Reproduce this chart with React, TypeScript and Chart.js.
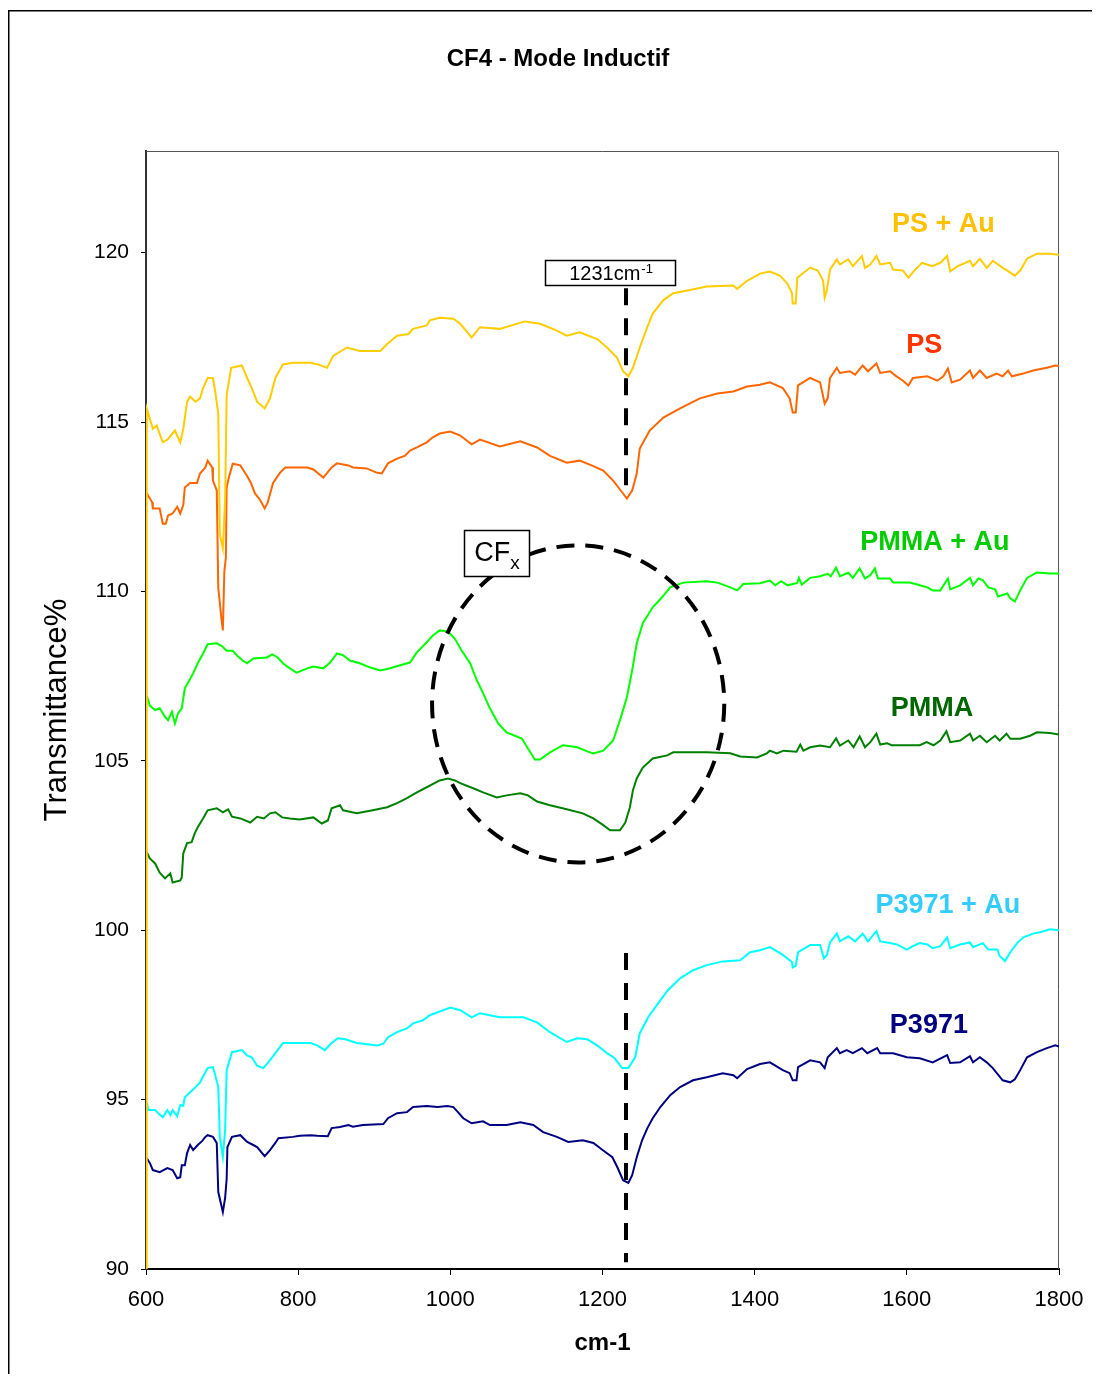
import React, { useEffect, useRef } from 'react';
import { Chart, registerables } from 'chart.js';

Chart.register(...registerables);

const FONT = '"Liberation Sans", Arial, Helvetica, sans-serif';

const chartTitle = 'CF4 - Mode Inductif';
const xAxisTitle = 'cm-1';
const yAxisTitle = 'Transmittance%';
const xTicks = [600, 800, 1000, 1200, 1400, 1600, 1800];
const yTicks = [90, 95, 100, 105, 110, 115, 120];

const seriesNames = ['PS + Au', 'PS', 'PMMA + Au', 'PMMA', 'P3971 + Au', 'P3971'];
const lineColors = ['#FFCC00', '#FF6600', '#00FF00', '#008000', '#00FFFF', '#000080'];
const labelColors = ['#FFC000', '#FF3300', '#00CC00', '#006600', '#33CCFF', '#000080'];
// label anchors in data units (wavenumber, transmittance)
const labelAnchors: [number, number][] = [
  [1648, 120.83], [1623, 117.26], [1637, 111.45], [1633, 106.55], [1654, 100.74], [1629, 97.2],
];

// annotation values in data units
const markerX = 1231;
const markerSegments: [number, number][] = [[118.95, 112.75], [99.33, 90.2]];
const markerLabelBox: [number, number, number, number] = [1124.4, 119.79, 1295.3, 119.03];
const cfxBox: [number, number, number, number] = [1018, 111.8, 1103.5, 110.47];
const circleCenter: [number, number] = [1168, 106.68];
const circleRadii: [number, number] = [192, 4.68];

const psAu: [number, number][] = [
  [600, 90], [601, 115.4], [609, 114.8], [614, 114.9], [622, 114.4], [629, 114.5], [638, 114.75], [645, 114.4],
  [649, 114.8], [654, 115.6], [658, 115.75], [665, 115.6], [671, 115.7], [675, 116.0], [681, 116.3], [688, 116.3],
  [691, 115.9], [695, 115.25], [697, 111.7], [701, 111.27], [704, 112.7], [706, 115.8], [712, 116.6], [726, 116.67],
  [733, 116.3], [739, 116.0], [746, 115.6], [756, 115.4], [763, 115.7], [770, 116.3], [780, 116.7], [793, 116.75],
  [816, 116.75], [826, 116.7], [838, 116.6], [846, 116.95], [864, 117.2], [881, 117.1], [908, 117.1], [917, 117.3],
  [930, 117.55], [945, 117.6], [951, 117.75], [969, 117.85], [973, 118.0], [986, 118.08], [1004, 118.05], [1013, 117.9],
  [1028, 117.5], [1039, 117.8], [1065, 117.75], [1098, 117.97], [1118, 117.9], [1140, 117.7], [1153, 117.55], [1170, 117.65],
  [1193, 117.45], [1206, 117.2], [1219, 116.9], [1227, 116.5], [1234, 116.35], [1240, 116.6], [1249, 117.2], [1258, 117.75],
  [1266, 118.2], [1280, 118.6], [1293, 118.8], [1315, 118.9], [1337, 119.0], [1372, 119.03], [1377, 118.93], [1390, 119.17],
  [1407, 119.38], [1420, 119.44], [1433, 119.32], [1443, 119.09], [1449, 118.8], [1450, 118.5], [1454, 118.5], [1456, 119.26],
  [1464, 119.4], [1473, 119.56], [1483, 119.47], [1490, 119.17], [1492, 118.67], [1495, 118.9], [1499, 119.5], [1508, 119.8],
  [1512, 119.65], [1523, 119.8], [1529, 119.6], [1541, 119.9], [1545, 119.55], [1552, 119.65], [1560, 119.9], [1565, 119.65],
  [1578, 119.7], [1582, 119.5], [1595, 119.47], [1602, 119.26], [1611, 119.5], [1620, 119.7], [1633, 119.6], [1644, 119.7],
  [1653, 119.9], [1657, 119.45], [1667, 119.6], [1683, 119.76], [1687, 119.6], [1696, 119.82], [1705, 119.55], [1713, 119.76],
  [1726, 119.55], [1730, 119.5], [1742, 119.32], [1749, 119.47], [1758, 119.82], [1771, 119.97], [1788, 119.97], [1800, 119.94],
];

const ps: [number, number][] = [
  [601, 112.9], [608, 112.63], [609, 112.45], [618, 112.45], [622, 112.0], [626, 112.0], [629, 112.24], [635, 112.3],
  [641, 112.5], [645, 112.3], [649, 112.55], [651, 113.07], [658, 113.2], [667, 113.2], [671, 113.48], [678, 113.66],
  [681, 113.86], [687, 113.66], [688, 113.27], [693, 112.98], [695, 110.1], [699, 109.23], [701, 108.85], [703, 110.6],
  [705, 111.0], [706, 113.07], [709, 113.37], [714, 113.77], [724, 113.72], [733, 113.4], [738, 113.2], [743, 112.9],
  [750, 112.7], [756, 112.45], [760, 112.63], [767, 113.2], [776, 113.5], [783, 113.66], [798, 113.66], [812, 113.66],
  [820, 113.6], [833, 113.36], [844, 113.66], [851, 113.78], [866, 113.72], [872, 113.66], [890, 113.63], [904, 113.5],
  [910, 113.48], [918, 113.78], [930, 113.92], [940, 114.0], [947, 114.16], [956, 114.25], [969, 114.4], [977, 114.55],
  [986, 114.66], [1000, 114.72], [1013, 114.6], [1028, 114.34], [1039, 114.48], [1065, 114.28], [1092, 114.43], [1114, 114.25],
  [1131, 114.0], [1153, 113.8], [1170, 113.86], [1188, 113.7], [1201, 113.57], [1214, 113.27], [1226, 112.92], [1232, 112.74],
  [1239, 112.98], [1245, 113.48], [1249, 114.22], [1262, 114.75], [1280, 115.13], [1302, 115.4], [1328, 115.7], [1351, 115.84],
  [1372, 115.9], [1390, 116.05], [1407, 116.1], [1420, 116.17], [1437, 116.0], [1446, 115.7], [1450, 115.28], [1454, 115.28],
  [1457, 116.08], [1473, 116.3], [1486, 116.17], [1492, 115.54], [1496, 115.7], [1499, 116.3], [1508, 116.6], [1512, 116.45],
  [1525, 116.5], [1532, 116.4], [1542, 116.67], [1549, 116.5], [1560, 116.73], [1565, 116.45], [1578, 116.5], [1585, 116.37],
  [1595, 116.22], [1602, 116.08], [1608, 116.3], [1627, 116.35], [1640, 116.22], [1648, 116.35], [1654, 116.58], [1659, 116.17],
  [1670, 116.25], [1683, 116.52], [1687, 116.3], [1696, 116.52], [1705, 116.3], [1718, 116.43], [1726, 116.35], [1733, 116.52],
  [1738, 116.35], [1753, 116.43], [1766, 116.52], [1784, 116.6], [1795, 116.67], [1800, 116.65],
];

const pmmaAu: [number, number][] = [
  [601, 106.93], [605, 106.63], [612, 106.5], [618, 106.55], [625, 106.3], [629, 106.2], [634, 106.45], [638, 106.1],
  [642, 106.4], [647, 106.55], [651, 107.14], [655, 107.3], [662, 107.58], [668, 107.88], [675, 108.17], [681, 108.44],
  [693, 108.47], [700, 108.38], [706, 108.25], [714, 108.25], [720, 108.1], [727, 107.96], [733, 107.88], [741, 108.02],
  [759, 108.05], [766, 108.14], [773, 108.05], [780, 107.88], [789, 107.73], [798, 107.6], [812, 107.73], [820, 107.78],
  [833, 107.73], [842, 107.9], [851, 108.17], [859, 108.12], [868, 107.96], [881, 107.88], [894, 107.76], [908, 107.67],
  [921, 107.73], [934, 107.82], [947, 107.9], [956, 108.2], [969, 108.5], [977, 108.7], [986, 108.85], [997, 108.82],
  [1006, 108.6], [1015, 108.25], [1026, 107.88], [1035, 107.37], [1043, 107.0], [1052, 106.55], [1063, 106.1], [1074, 105.84],
  [1094, 105.66], [1101, 105.4], [1111, 105.04], [1118, 105.04], [1131, 105.25], [1148, 105.46], [1167, 105.4], [1180, 105.28],
  [1188, 105.22], [1201, 105.3], [1214, 105.6], [1223, 106.2], [1232, 106.87], [1239, 107.67], [1245, 108.47], [1253, 109.06],
  [1266, 109.53], [1278, 109.82], [1289, 110.12], [1306, 110.26], [1337, 110.3], [1351, 110.26], [1368, 110.12], [1377, 110.03],
  [1385, 110.22], [1407, 110.24], [1420, 110.32], [1427, 110.18], [1435, 110.3], [1443, 110.18], [1456, 110.25], [1458, 110.4],
  [1462, 110.2], [1473, 110.4], [1486, 110.45], [1496, 110.52], [1500, 110.45], [1507, 110.7], [1512, 110.45], [1523, 110.55],
  [1529, 110.4], [1538, 110.68], [1545, 110.38], [1552, 110.48], [1558, 110.68], [1562, 110.38], [1578, 110.38], [1582, 110.26],
  [1604, 110.26], [1617, 110.18], [1627, 110.12], [1634, 110.03], [1644, 110.03], [1654, 110.38], [1657, 110.06], [1670, 110.18],
  [1683, 110.4], [1687, 110.18], [1694, 110.38], [1700, 110.33], [1707, 110.12], [1716, 110.06], [1720, 109.85], [1732, 109.94],
  [1736, 109.8], [1742, 109.7], [1749, 110.03], [1758, 110.4], [1771, 110.56], [1788, 110.53], [1800, 110.53],
];

const pmma: [number, number][] = [
  [601, 102.3], [605, 102.12], [612, 101.97], [618, 101.7], [625, 101.53], [632, 101.68], [635, 101.41], [645, 101.47],
  [647, 101.56], [649, 102.27], [654, 102.57], [660, 102.6], [664, 102.86], [668, 103.04], [675, 103.3], [681, 103.54],
  [693, 103.6], [701, 103.48], [708, 103.57], [713, 103.35], [724, 103.3], [737, 103.18], [746, 103.35], [755, 103.3],
  [763, 103.45], [770, 103.48], [779, 103.33], [789, 103.3], [802, 103.27], [820, 103.33], [831, 103.15], [839, 103.24],
  [844, 103.6], [855, 103.69], [859, 103.54], [877, 103.45], [898, 103.54], [917, 103.63], [930, 103.75], [943, 103.9],
  [956, 104.07], [969, 104.22], [986, 104.42], [997, 104.48], [1006, 104.42], [1013, 104.34], [1030, 104.19], [1043, 104.07],
  [1061, 103.92], [1074, 103.98], [1092, 104.04], [1102, 103.98], [1114, 103.8], [1131, 103.69], [1153, 103.57], [1174, 103.45],
  [1188, 103.3], [1201, 103.1], [1210, 102.95], [1223, 102.95], [1230, 103.18], [1236, 103.63], [1240, 104.13], [1245, 104.48],
  [1253, 104.8], [1266, 105.07], [1285, 105.16], [1293, 105.25], [1337, 105.25], [1368, 105.22], [1381, 105.13], [1403, 105.1],
  [1416, 105.22], [1420, 105.3], [1429, 105.22], [1438, 105.3], [1455, 105.27], [1460, 105.48], [1464, 105.3], [1473, 105.4],
  [1486, 105.45], [1499, 105.4], [1507, 105.66], [1512, 105.45], [1523, 105.6], [1530, 105.4], [1538, 105.72], [1545, 105.4],
  [1552, 105.55], [1560, 105.8], [1565, 105.48], [1574, 105.52], [1580, 105.46], [1617, 105.46], [1626, 105.55], [1635, 105.46],
  [1644, 105.6], [1652, 105.87], [1657, 105.55], [1670, 105.6], [1683, 105.8], [1687, 105.6], [1696, 105.74], [1705, 105.55],
  [1716, 105.74], [1722, 105.6], [1731, 105.8], [1736, 105.65], [1749, 105.65], [1762, 105.74], [1771, 105.84], [1788, 105.82],
  [1800, 105.78],
];

const p3971Au: [number, number][] = [
  [601, 94.93], [603, 94.69], [612, 94.69], [616, 94.6], [622, 94.48], [628, 94.69], [632, 94.54], [635, 94.69],
  [641, 94.51], [645, 94.84], [649, 94.81], [651, 95.07], [658, 95.22], [664, 95.34], [671, 95.51], [678, 95.81],
  [681, 95.93], [688, 95.96], [691, 95.72], [695, 95.37], [697, 93.9], [701, 93.3], [704, 94.1], [706, 95.87],
  [713, 96.4], [726, 96.46], [733, 96.3], [739, 96.25], [746, 96.0], [754, 95.93], [760, 96.08], [770, 96.37],
  [780, 96.67], [793, 96.67], [816, 96.67], [825, 96.6], [835, 96.46], [844, 96.67], [852, 96.81], [862, 96.78],
  [877, 96.67], [904, 96.6], [912, 96.65], [918, 96.84], [930, 96.99], [943, 97.1], [951, 97.25], [964, 97.34],
  [973, 97.49], [986, 97.6], [1000, 97.72], [1013, 97.64], [1028, 97.43], [1039, 97.55], [1065, 97.43], [1096, 97.43],
  [1114, 97.28], [1131, 96.99], [1153, 96.7], [1167, 96.81], [1180, 96.78], [1193, 96.6], [1206, 96.37], [1216, 96.22],
  [1226, 95.93], [1234, 95.93], [1243, 96.25], [1249, 96.96], [1260, 97.43], [1273, 97.84], [1286, 98.23], [1302, 98.58],
  [1319, 98.82], [1337, 98.97], [1358, 99.08], [1381, 99.11], [1394, 99.35], [1407, 99.41], [1420, 99.5], [1437, 99.27],
  [1449, 99.06], [1450, 98.9], [1454, 98.95], [1457, 99.35], [1473, 99.56], [1486, 99.56], [1491, 99.17], [1495, 99.27],
  [1499, 99.64], [1508, 99.9], [1512, 99.67], [1523, 99.82], [1532, 99.67], [1542, 99.9], [1549, 99.67], [1560, 99.97],
  [1565, 99.67], [1578, 99.62], [1587, 99.58], [1600, 99.43], [1608, 99.53], [1617, 99.62], [1627, 99.58], [1634, 99.47],
  [1644, 99.53], [1653, 99.79], [1657, 99.47], [1670, 99.58], [1683, 99.64], [1687, 99.5], [1700, 99.62], [1707, 99.43],
  [1719, 99.43], [1722, 99.24], [1729, 99.09], [1736, 99.35], [1745, 99.62], [1753, 99.79], [1766, 99.9], [1775, 99.94],
  [1788, 100.03], [1800, 100.0],
];

const p3971: [number, number][] = [
  [601, 93.27], [605, 93.13], [609, 92.92], [618, 92.86], [628, 92.98], [635, 92.92], [641, 92.68], [645, 92.71],
  [647, 93.06], [651, 93.06], [654, 93.42], [658, 93.66], [662, 93.51], [668, 93.66], [674, 93.78], [678, 93.9],
  [681, 93.95], [688, 93.9], [693, 93.72], [695, 92.27], [701, 91.68], [704, 92.1], [706, 92.65], [707, 93.6],
  [713, 93.9], [724, 93.95], [733, 93.75], [741, 93.66], [746, 93.6], [756, 93.33], [763, 93.51], [770, 93.72],
  [774, 93.86], [793, 93.9], [802, 93.93], [816, 93.95], [825, 93.93], [839, 93.92], [844, 94.16], [855, 94.19],
  [866, 94.25], [872, 94.2], [885, 94.25], [912, 94.28], [918, 94.45], [930, 94.6], [943, 94.63], [951, 94.78],
  [969, 94.81], [983, 94.78], [996, 94.81], [1004, 94.78], [1010, 94.63], [1017, 94.45], [1028, 94.3], [1043, 94.36],
  [1052, 94.25], [1074, 94.25], [1092, 94.33], [1109, 94.25], [1122, 94.04], [1140, 93.9], [1155, 93.75], [1174, 93.8],
  [1188, 93.72], [1201, 93.5], [1213, 93.3], [1220, 92.98], [1227, 92.62], [1234, 92.54], [1239, 92.77], [1245, 93.3],
  [1252, 93.8], [1259, 94.16], [1266, 94.45], [1276, 94.78], [1289, 95.13], [1302, 95.37], [1319, 95.57], [1337, 95.66],
  [1358, 95.78], [1372, 95.72], [1377, 95.63], [1390, 95.9], [1407, 96.05], [1420, 96.1], [1437, 95.87], [1446, 95.78],
  [1450, 95.57], [1455, 95.57], [1457, 95.96], [1473, 96.16], [1486, 96.1], [1492, 95.93], [1496, 96.25], [1508, 96.52],
  [1512, 96.37], [1521, 96.46], [1529, 96.37], [1541, 96.52], [1548, 96.37], [1561, 96.52], [1565, 96.37], [1582, 96.37],
  [1600, 96.25], [1617, 96.22], [1634, 96.1], [1653, 96.31], [1657, 96.08], [1670, 96.1], [1683, 96.28], [1687, 96.1],
  [1696, 96.25], [1705, 96.1], [1713, 95.93], [1726, 95.57], [1736, 95.51], [1742, 95.6], [1749, 95.87], [1758, 96.25],
  [1771, 96.4], [1784, 96.52], [1795, 96.6], [1800, 96.57],
];

const seriesData = [psAu, ps, pmmaAu, pmma, p3971Au, p3971];

const annotationPlugin = {
  id: 'annotationPlugin',
  beforeDatasetsDraw(chart: any) {
    const { ctx, chartArea: a } = chart;
    ctx.save();
    ctx.strokeStyle = '#555555';
    ctx.lineWidth = 1;
    ctx.beginPath();
    ctx.moveTo(a.left, a.top + 0.5);
    ctx.lineTo(a.right - 0.5, a.top + 0.5);
    ctx.lineTo(a.right - 0.5, a.bottom);
    ctx.stroke();
    ctx.restore();
  },
  afterDatasetsDraw(chart: any) {
    const { ctx } = chart;
    const xs = chart.scales.x;
    const ys = chart.scales.y;
    ctx.save();
    ctx.strokeStyle = '#000000';
    ctx.lineWidth = 4;
    ctx.setLineDash([17, 13]);
    const mx = Math.round(xs.getPixelForValue(markerX));
    for (const [y0, y1] of markerSegments) {
      ctx.beginPath();
      ctx.moveTo(mx, ys.getPixelForValue(y0));
      ctx.lineTo(mx, ys.getPixelForValue(y1));
      ctx.stroke();
    }
    // dashed ellipse around the CFx region
    ctx.setLineDash([18, 11]);
    const cx = xs.getPixelForValue(circleCenter[0]);
    const cy = ys.getPixelForValue(circleCenter[1]);
    const rx = Math.abs(xs.getPixelForValue(circleCenter[0] + circleRadii[0]) - cx);
    const ry = Math.abs(ys.getPixelForValue(circleCenter[1] + circleRadii[1]) - cy);
    ctx.beginPath();
    ctx.ellipse(cx, cy, rx, ry, 0, 0, Math.PI * 2);
    ctx.stroke();
    ctx.setLineDash([]);

    // boxes
    const drawBox = (b: [number, number, number, number]) => {
      const l = Math.round(xs.getPixelForValue(b[0])) + 0.5;
      const t = Math.round(ys.getPixelForValue(b[1])) + 0.5;
      const r = Math.round(xs.getPixelForValue(b[2])) + 0.5;
      const bt = Math.round(ys.getPixelForValue(b[3])) + 0.5;
      ctx.fillStyle = '#ffffff';
      ctx.fillRect(l, t, r - l, bt - t);
      ctx.strokeStyle = '#000000';
      ctx.lineWidth = 1.5;
      ctx.strokeRect(l, t, r - l, bt - t);
      return { l, t, r, b: bt };
    };
    const mb = drawBox(markerLabelBox);
    ctx.fillStyle = '#000000';
    ctx.textBaseline = 'alphabetic';
    ctx.textAlign = 'left';
    ctx.font = `20px ${FONT}`;
    const main = `${markerX}cm`;
    const w1 = ctx.measureText(main).width;
    ctx.font = `13px ${FONT}`;
    const w2 = ctx.measureText('-1').width;
    const sx = (mb.l + mb.r) / 2 - (w1 + w2) / 2;
    const by = (mb.t + mb.b) / 2 + 7;
    ctx.font = `20px ${FONT}`;
    ctx.fillText(main, sx, by);
    ctx.font = `13px ${FONT}`;
    ctx.fillText('-1', sx + w1 + 1, by - 7);

    const cb = drawBox(cfxBox);
    ctx.fillStyle = '#000000';
    ctx.font = `27px ${FONT}`;
    const c1 = ctx.measureText('CF').width;
    ctx.font = `19px ${FONT}`;
    const c2 = ctx.measureText('x').width;
    const csx = (cb.l + cb.r) / 2 - (c1 + c2) / 2;
    const cby = (cb.t + cb.b) / 2 + 7;
    ctx.font = `27px ${FONT}`;
    ctx.fillText('CF', csx, cby);
    ctx.font = `19px ${FONT}`;
    ctx.fillText('x', csx + c1, cby + 8);

    // series labels
    ctx.font = `bold 27px ${FONT}`;
    ctx.textAlign = 'center';
    ctx.textBaseline = 'middle';
    seriesNames.forEach((name, i) => {
      ctx.fillStyle = labelColors[i];
      ctx.fillText(name, xs.getPixelForValue(labelAnchors[i][0]), ys.getPixelForValue(labelAnchors[i][1]));
    });
    ctx.restore();
  },
  afterDraw(chart: any) {
    const { ctx, width, height } = chart;
    ctx.save();
    // chart title
    ctx.fillStyle = '#000000';
    ctx.font = `bold 24px ${FONT}`;
    ctx.textAlign = 'center';
    ctx.textBaseline = 'middle';
    ctx.fillText(chartTitle, 550, 51);
    // outer frame
    ctx.strokeStyle = '#000000';
    ctx.lineWidth = 1.5;
    ctx.beginPath();
    ctx.moveTo(0.75, height);
    ctx.lineTo(0.75, 2.75);
    ctx.lineTo(width, 2.75);
    ctx.stroke();
    ctx.restore();
  },
};

export default function App() {
  const canvasRef = useRef<HTMLCanvasElement | null>(null);

  useEffect(() => {
    const canvas = canvasRef.current;
    if (!canvas) return;
    const chart = new Chart(canvas, {
      type: 'line',
      data: {
        datasets: seriesNames.map((name, i) => ({
          label: name,
          data: seriesData[i].map(([x, y]) => ({ x, y })),
          borderColor: lineColors[i],
          backgroundColor: lineColors[i],
          borderWidth: 2,
          pointRadius: 0,
          tension: 0,
          fill: false,
        })),
      },
      options: {
        animation: false,
        responsive: false,
        devicePixelRatio: 1,
        layout: { padding: { top: 143, left: 0, right: 41, bottom: 0 } },
        plugins: {
          legend: { display: false },
          tooltip: { enabled: false },
          title: { display: false },
        },
        scales: {
          x: {
            type: 'linear',
            min: 600,
            max: 1800,
            afterBuildTicks: (s: any) => {
              s.ticks = xTicks.map((v) => ({ value: v }));
            },
            afterFit: (s: any) => {
              s.height = 105;
            },
            grid: { display: true, drawOnChartArea: false, drawTicks: true, tickLength: 6, color: '#000000', lineWidth: 1 },
            border: { display: true, color: '#000000', width: 2 },
            ticks: {
              color: '#000000',
              font: { family: FONT, size: 22 },
              padding: 12,
              maxRotation: 0,
              autoSkip: false,
              callback: (v: any) => String(v),
            },
            title: {
              display: true,
              text: xAxisTitle,
              color: '#000000',
              font: { family: FONT, size: 24, weight: 'bold', lineHeight: 1.2 },
              padding: { top: 0, bottom: 16.6 },
            },
          },
          y: {
            type: 'linear',
            min: 90,
            max: 123,
            afterBuildTicks: (s: any) => {
              s.ticks = yTicks.map((v) => ({ value: v }));
            },
            afterFit: (s: any) => {
              s.width = 138;
            },
            grid: { display: true, drawOnChartArea: false, drawTicks: true, tickLength: 5, color: '#000000', lineWidth: 1 },
            border: { display: true, color: '#333333', width: 2 },
            ticks: {
              color: '#000000',
              font: { family: FONT, size: 21 },
              padding: 12,
              autoSkip: false,
              callback: (v: any) => String(v),
            },
            title: {
              display: true,
              text: yAxisTitle,
              color: '#000000',
              font: { family: FONT, size: 31, lineHeight: 1.2 },
              padding: { top: 30.4, bottom: 0 },
            },
          },
        },
      } as any,
      plugins: [annotationPlugin],
    });
    return () => chart.destroy();
  }, []);

  return (
    <div style={{ width: 1092, height: 1366, position: 'relative' }}>
      <canvas ref={canvasRef} width={1092} height={1366} style={{ display: 'block' }} />
    </div>
  );
}
